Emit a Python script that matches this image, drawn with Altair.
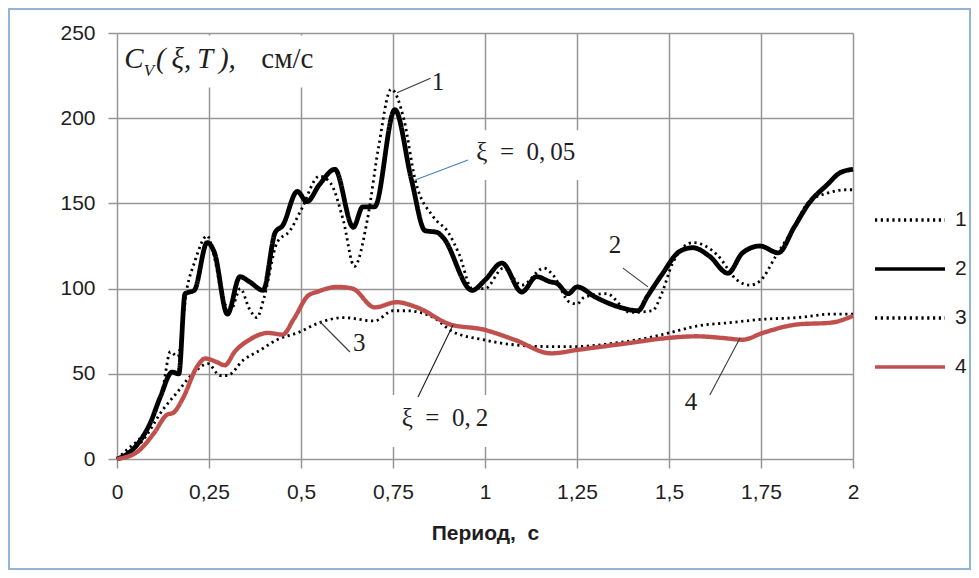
import altair as alt
import pandas as pd

# ---------------- data ----------------
SERIES = ["1", "2", "3", "4"]

# 1: dotted, xi = 0.05 (second record)
T1 = [0, 0.03, 0.07, 0.10, 0.125, 0.145, 0.165, 0.19, 0.21, 0.245, 0.265, 0.29, 0.31,
      0.335, 0.36, 0.38, 0.40, 0.435, 0.47, 0.50, 0.55, 0.58, 0.615, 0.645, 0.68, 0.71,
      0.745, 0.78, 0.81, 0.86, 0.90, 0.93, 0.965, 1.0, 1.05, 1.10, 1.16, 1.185, 1.23,
      1.25, 1.27, 1.33, 1.395, 1.455, 1.48, 1.51, 1.565, 1.63, 1.685, 1.72, 1.75, 1.79,
      1.84, 1.88, 1.93, 1.98, 2.0]
C1 = [0, 6, 14, 25, 42, 63, 60, 100, 115, 131, 118, 92, 88,
      100, 88, 83, 95, 127, 134, 146, 166, 162, 140, 113, 140, 182,
      217, 199, 164, 142, 133, 120, 100, 100, 112, 102, 112, 108, 92,
      91, 95, 97, 86, 87, 97, 115, 127, 120, 105, 102, 105, 119,
      136, 151, 156, 158, 158]

# 2: solid black, xi = 0.05
T2 = [0, 0.04, 0.07, 0.09, 0.117, 0.15, 0.168, 0.185, 0.21, 0.245, 0.265, 0.30, 0.334,
      0.36, 0.397, 0.43, 0.45, 0.49, 0.516, 0.55, 0.592, 0.642, 0.668, 0.70, 0.755,
      0.80, 0.837, 0.87, 0.886, 0.965, 1.0, 1.046, 1.10, 1.14, 1.177, 1.196, 1.226,
      1.25, 1.30, 1.367, 1.416, 1.44, 1.48, 1.53, 1.565, 1.61, 1.66, 1.70, 1.747,
      1.797, 1.84, 1.88, 1.93, 1.965, 2.0]
C2 = [0, 5, 13, 21, 36, 51, 50, 97, 99, 127, 121, 85, 107,
      104, 99, 133, 137, 157, 151, 161, 170, 136, 148, 148, 205,
      164, 134, 133, 130, 99, 105, 115, 98, 107, 104, 103, 97,
      101, 95, 89, 87, 95, 108, 122, 124, 119, 109, 121, 125,
      121, 136, 150, 161, 168, 170]

# 3: dotted, xi = 0.2
T3 = [0, 0.07, 0.125, 0.163, 0.206, 0.247, 0.28, 0.30, 0.343, 0.39, 0.435, 0.49, 0.55,
      0.615, 0.70, 0.75, 0.787, 0.86, 0.91, 0.995, 1.08, 1.17, 1.25, 1.35, 1.44, 1.50,
      1.575, 1.665, 1.755, 1.85, 1.94, 2.0]
C3 = [0, 11, 29, 39, 50, 56, 49, 49, 58, 64, 70, 74, 80,
      83, 81, 87, 87, 83, 75, 70, 67, 66, 66, 68, 71, 74,
      78, 80, 82, 83, 85, 85]

# 4: solid red, xi = 0.2
T4 = [0, 0.054, 0.10, 0.136, 0.152, 0.18, 0.217, 0.24, 0.27, 0.293, 0.32, 0.36, 0.41,
      0.45, 0.48, 0.52, 0.543, 0.598, 0.64, 0.70, 0.76, 0.815, 0.905, 0.995, 1.08,
      1.18, 1.25, 1.39, 1.495, 1.575, 1.647, 1.70, 1.755, 1.85, 1.94, 2.0]
C4 = [0, 4, 15, 26, 27, 36, 54, 59, 57, 55, 63, 70, 74,
      73, 82, 96, 98, 101, 100, 89, 92, 89, 79, 76, 70,
      62, 64, 68, 71, 72, 71, 70, 74, 79, 80, 84]

X_TICKS = [0, 0.25, 0.5, 0.75, 1, 1.25, 1.5, 1.75, 2]
Y_TICKS = [0, 50, 100, 150, 200, 250]

# curve number labels and their leader lines
NUM_TEXT = ["1", "2", "3", "4"]
NUM_T = [0.872, 1.353, 0.658, 1.560]
NUM_C = [221, 125.6, 68, 33.5]
NUM_LEAD_T = [0.761, 1.375, 0.552, 1.693]
NUM_LEAD_C = [215, 112, 80.4, 71]
NUM_LEAD_T2 = [0.852, 1.443, 0.633, 1.611]
NUM_LEAD_C2 = [223.5, 101, 62.8, 37.6]

# damping labels
XI_TEXT = ["ξ\u2002=\u20020,\u200905", "ξ\u2002=\u20020,\u20092"]
XI_T = [1.111, 0.891]
XI_C = [180, 24]
XI_LEAD_T = [0.810, 0.913]
XI_LEAD_C = [163.7, 78.6]
XI_LEAD_T2 = [0.954, 0.818]
XI_LEAD_C2 = [175.5, 36.4]

# white boxes behind the text boxes
BOX_T = [0.005, 0.93, 0.715]
BOX_T2 = [0.60, 1.28, 1.054]
BOX_C = [218, 163.7, 7]
BOX_C2 = [248.5, 193, 37.5]

# y-axis title pieces  C_V(ξ,T), см/с
TITLE_IT_TEXT = ["C", "(\u2009ξ,\u2009T\u2009),"]
TITLE_IT_T = [0.020, 0.106]
TITLE_IT_C = [229.5, 229.5]
TITLE_SUB_TEXT = ["V"]
TITLE_SUB_T = [0.073]
TITLE_SUB_C = [225.0]
TITLE_UNIT_TEXT = ["см/с"]
TITLE_UNIT_T = [0.392]
TITLE_UNIT_C = [229.5]

# ---------------- styling ----------------
W, H = 736, 426
GRID = "#969696"
TXT = "#1e1e1e"
SANS = "Liberation Sans"
SERIF = "Liberation Serif"
RED = "#c0504d"
X_TITLE = "Период,\u00a0\u00a0с"

curves = pd.concat(
    [pd.DataFrame({"series": s, "T": t, "C": c})
     for s, t, c in zip(SERIES, [T1, T2, T3, T4], [C1, C2, C3, C4])],
    ignore_index=True,
)

xscale = alt.Scale(domain=[0, 2], nice=False, zero=False)
yscale = alt.Scale(domain=[0, 250], nice=False, zero=False)

x_axis = alt.Axis(
    values=X_TICKS, labelExpr="replace(format(datum.value, '.2~f'), '.', ',')",
    grid=True, gridColor=GRID, gridWidth=1.5, domain=False,
    ticks=True, tickColor=GRID, tickWidth=1.5, tickSize=9,
    labelFont=SANS, labelFontSize=21, labelColor=TXT, labelPadding=13,
    labelFlush=False, labelOverlap=False, labelBound=False,
    titleFont=SANS, titleFontSize=21, titleFontWeight="bold", titleColor=TXT,
    titleY=80, titleBaseline="alphabetic",
)
y_axis = alt.Axis(
    values=Y_TICKS, grid=True, gridColor=GRID, gridWidth=1.5, domain=False,
    ticks=True, tickColor=GRID, tickWidth=1.5, tickSize=9,
    labelFont=SANS, labelFontSize=21, labelColor=TXT, labelPadding=13,
    labelFlush=False, labelOverlap=False, labelBound=False,
)


def xy(tf="T", cf="C"):
    return dict(x=alt.X(f"{tf}:Q", scale=xscale, axis=x_axis, title=X_TITLE),
                y=alt.Y(f"{cf}:Q", scale=yscale, axis=y_axis, title=None))


legend = alt.Legend(
    orient="none", legendX=756, legendY=177, padding=0,
    symbolType="stroke", symbolSize=4900, symbolStrokeWidth=3.6,
    clipHeight=20, rowPadding=28,
    labelFont=SANS, labelFontSize=21, labelColor=TXT, labelOffset=8,
)

lines = alt.Chart(curves).transform_calculate(
    w="datum.series == '2' ? 4.8 : (datum.series == '4' ? 4.4 : 2.8)"
).mark_line(interpolate="monotone", strokeCap="butt", strokeJoin="round").encode(
    **xy(),
    color=alt.Color("series:N", title=None, legend=legend,
                    scale=alt.Scale(domain=SERIES, range=["#000000", "#000000", "#000000", RED])),
    strokeDash=alt.StrokeDash("series:N", title=None, legend=legend,
                              scale=alt.Scale(domain=SERIES,
                                              range=[[2.2, 3.6], [1, 0], [2.2, 3.6], [1, 0]])),
    strokeWidth=alt.StrokeWidth("w:Q", scale=None, legend=None),
)

border = alt.Chart(pd.DataFrame({"k": [0]})).mark_rect(
    filled=False, stroke="#95b3d7", strokeWidth=2
).encode(x=alt.value(-108), x2=alt.value(853), y=alt.value(-24), y2=alt.value(536))

boxes = alt.Chart(pd.DataFrame({"T": BOX_T, "T2": BOX_T2, "C": BOX_C, "C2": BOX_C2})).mark_rect(
    fill="white", strokeWidth=0
).encode(**xy(), x2="T2:Q", y2="C2:Q")

num_leads = alt.Chart(pd.DataFrame({"T": NUM_LEAD_T, "C": NUM_LEAD_C,
                                    "T2": NUM_LEAD_T2, "C2": NUM_LEAD_C2})).mark_rule(
    color="#3a3a3a", strokeWidth=1.1
).encode(**xy(), x2="T2:Q", y2="C2:Q")

xi_leads = alt.Chart(pd.DataFrame({"T": XI_LEAD_T, "C": XI_LEAD_C, "T2": XI_LEAD_T2,
                                   "C2": XI_LEAD_C2, "k": ["a", "b"]})).mark_rule(
    strokeWidth=1.1
).encode(**xy(), x2="T2:Q", y2="C2:Q",
         stroke=alt.Stroke("k:N", scale=alt.Scale(domain=["a", "b"], range=["#4a7ebb", "#1a1a1a"]),
                           legend=None))

nums = alt.Chart(pd.DataFrame({"T": NUM_T, "C": NUM_C, "text": NUM_TEXT})).mark_text(
    font=SERIF, fontSize=25, color=TXT, align="center", baseline="middle"
).encode(**xy(), text="text:N")

xis = alt.Chart(pd.DataFrame({"T": XI_T, "C": XI_C, "text": XI_TEXT})).mark_text(
    font=SERIF, fontSize=25, color=TXT, align="center", baseline="middle"
).encode(**xy(), text="text:N")

title_it = alt.Chart(pd.DataFrame({"T": TITLE_IT_T, "C": TITLE_IT_C, "text": TITLE_IT_TEXT})).mark_text(
    font=SERIF, fontSize=29, fontStyle="italic", color=TXT, align="left", baseline="alphabetic"
).encode(**xy(), text="text:N")

title_sub = alt.Chart(pd.DataFrame({"T": TITLE_SUB_T, "C": TITLE_SUB_C, "text": TITLE_SUB_TEXT})).mark_text(
    font=SERIF, fontSize=17, fontStyle="italic", color=TXT, align="left", baseline="alphabetic"
).encode(**xy(), text="text:N")

title_unit = alt.Chart(pd.DataFrame({"T": TITLE_UNIT_T, "C": TITLE_UNIT_C, "text": TITLE_UNIT_TEXT})).mark_text(
    font=SERIF, fontSize=29, color=TXT, align="left", baseline="alphabetic"
).encode(**xy(), text="text:N")

chart = alt.layer(
    border, boxes, lines, num_leads, xi_leads, nums, xis, title_it, title_sub, title_unit
).properties(
    width=W, height=H,
    autosize=alt.AutoSizeParams(type="none"),
    padding={"left": 109, "top": 25, "right": 118, "bottom": 111},
    background="white",
).configure_view(stroke=None)

chart.save("out.html", embed_options={"renderer": "svg", "actions": False})
